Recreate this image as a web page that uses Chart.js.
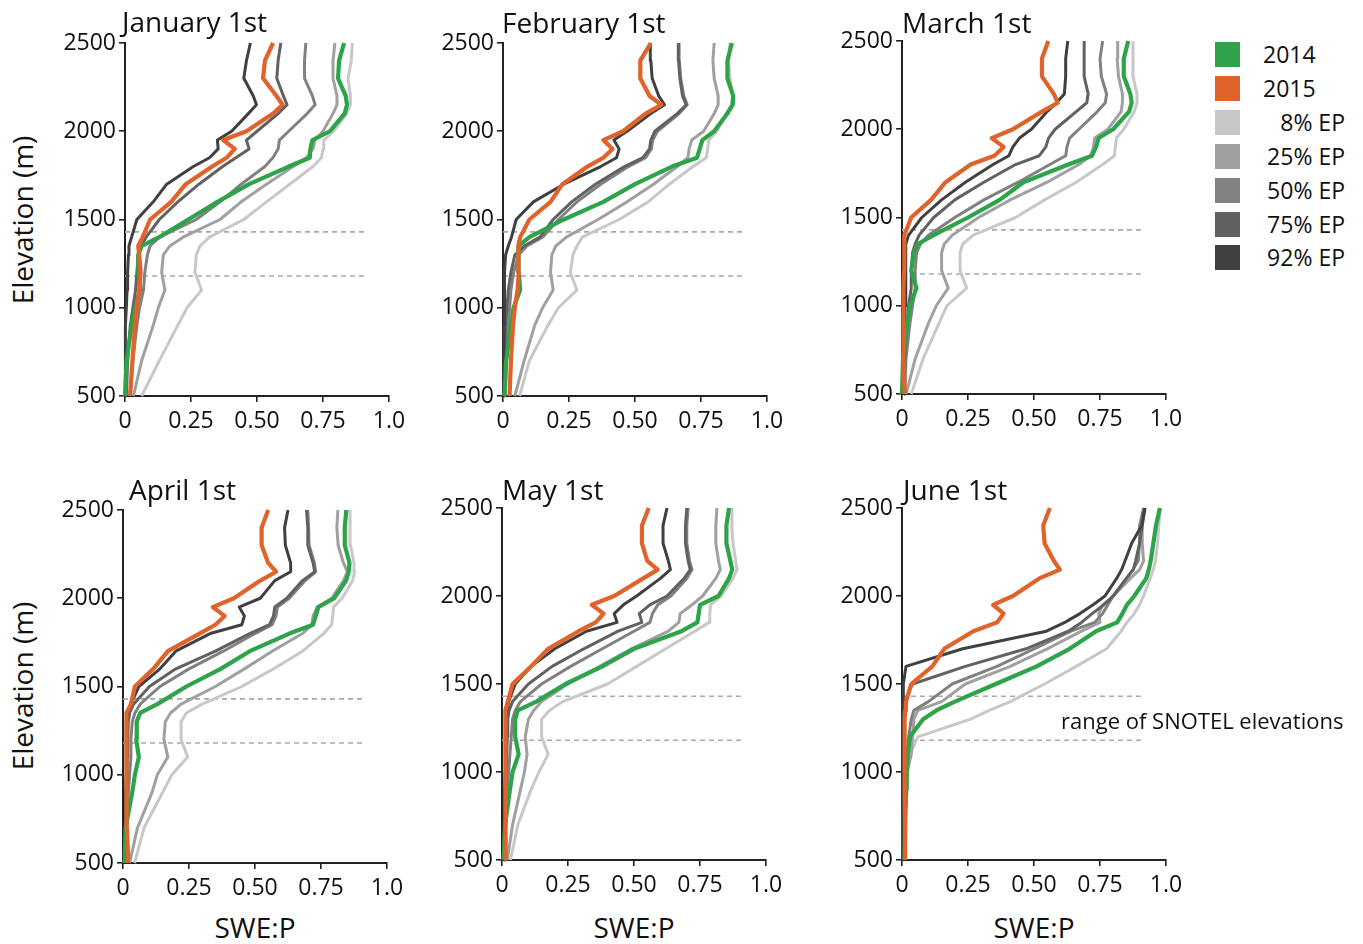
<!DOCTYPE html>
<html>
<head>
<meta charset="utf-8">
<script src="https://cdn.jsdelivr.net/npm/chart.js@4.4.1/dist/chart.umd.min.js"></script>
<style>
  body { margin: 0; background: #fff; }
  #page { position: relative; width: 1363px; height: 944px; font-family: "Open Sans", sans-serif; color: #111; overflow: hidden; }
  #page canvas { position: absolute; }
  .txt { position: absolute; white-space: nowrap; line-height: 1; }
  .title { font-size: 28px; }
  .axlab { font-size: 28px; transform: translate(-50%, -50%); }
  .ylab { transform: translate(-50%, -50%) rotate(-90deg); }
  .leg-sw { position: absolute; width: 25px; height: 25px; }
  .leg-tx { position: absolute; font-size: 23px; line-height: 25px; }
</style>
</head>
<body>
<div id="page"></div>
<script>
// elevation bands (m) shared by every profile
const elevation = [500, 700, 900, 1000, 1100, 1200, 1300, 1350, 1400, 1500, 1600, 1700, 1800, 1850, 1900, 1950, 2000, 2100, 2150, 2200, 2300, 2400, 2500];

const xTickValues = [0, 0.25, 0.5, 0.75, 1.0];
const xTickLabels = ['0', '0.25', '0.50', '0.75', '1.0'];
const yTickValues = [500, 1000, 1500, 2000, 2500];
const yTickLabels = ['500', '1000', '1500', '2000', '2500'];

// range of SNOTEL elevations (dashed lines)
const snotelRange = [1180, 1430];
const snotelSpan = [0, 0.92];

const seriesLabels = ['2014', '2015', '8% EP', '25% EP', '50% EP', '75% EP', '92% EP'];
const panelTitles = ['January 1st', 'February 1st', 'March 1st', 'April 1st', 'May 1st', 'June 1st'];

// SWE:P by elevation, one array per date and series
const jan_2014 = [0, 0.006, 0.025, 0.038, 0.057, 0.05, 0.05, 0.063, 0.13, 0.24, 0.35, 0.47, 0.62, 0.7, 0.702, 0.71, 0.776, 0.832, 0.841, 0.836, 0.807, 0.811, 0.83];
const jan_2015 = [0.019, 0.028, 0.038, 0.044, 0.054, 0.059, 0.054, 0.05, 0.067, 0.095, 0.175, 0.23, 0.33, 0.385, 0.416, 0.372, 0.46, 0.561, 0.597, 0.574, 0.523, 0.53, 0.561];
const jan_ep8 = [0.063, 0.13, 0.2, 0.235, 0.29, 0.265, 0.27, 0.284, 0.32, 0.45, 0.536, 0.624, 0.712, 0.744, 0.75, 0.753, 0.79, 0.84, 0.854, 0.854, 0.845, 0.857, 0.861];
const jan_ep25 = [0.032, 0.063, 0.107, 0.126, 0.151, 0.139, 0.145, 0.17, 0.22, 0.36, 0.44, 0.536, 0.637, 0.687, 0.712, 0.719, 0.75, 0.788, 0.803, 0.803, 0.788, 0.788, 0.795];
const jan_ep50 = [0.02, 0.03, 0.045, 0.055, 0.07, 0.075, 0.085, 0.095, 0.13, 0.27, 0.36, 0.44, 0.53, 0.56, 0.58, 0.585, 0.62, 0.69, 0.72, 0.71, 0.68, 0.68, 0.685];
const jan_ep75 = [0.005, 0.01, 0.02, 0.03, 0.04, 0.045, 0.05, 0.06, 0.08, 0.13, 0.2, 0.28, 0.37, 0.42, 0.47, 0.46, 0.5, 0.58, 0.614, 0.6, 0.575, 0.58, 0.59];
const jan_ep92 = [0, 0, 0.003, 0.005, 0.008, 0.01, 0.013, 0.015, 0.025, 0.045, 0.107, 0.158, 0.259, 0.32, 0.353, 0.35, 0.404, 0.467, 0.498, 0.486, 0.45, 0.46, 0.475];

const feb_2014 = [0.006, 0.012, 0.03, 0.04, 0.065, 0.06, 0.058, 0.06, 0.1, 0.23, 0.38, 0.5, 0.64, 0.735, 0.745, 0.755, 0.8, 0.85, 0.87, 0.872, 0.85, 0.85, 0.867];
const feb_2015 = [0.025, 0.03, 0.038, 0.045, 0.055, 0.06, 0.058, 0.058, 0.065, 0.1, 0.18, 0.225, 0.32, 0.38, 0.415, 0.38, 0.455, 0.54, 0.6, 0.555, 0.52, 0.52, 0.56];
const feb_ep8 = [0.063, 0.1, 0.17, 0.21, 0.28, 0.255, 0.265, 0.28, 0.3, 0.44, 0.55, 0.63, 0.72, 0.77, 0.775, 0.78, 0.81, 0.845, 0.865, 0.87, 0.86, 0.855, 0.86];
const feb_ep25 = [0.045, 0.08, 0.12, 0.15, 0.19, 0.18, 0.185, 0.2, 0.24, 0.36, 0.47, 0.57, 0.66, 0.7, 0.705, 0.715, 0.76, 0.8, 0.815, 0.815, 0.8, 0.795, 0.8];
const feb_ep50 = [0.008, 0.012, 0.02, 0.025, 0.03, 0.04, 0.06, 0.09, 0.15, 0.21, 0.28, 0.37, 0.475, 0.54, 0.562, 0.567, 0.585, 0.667, 0.698, 0.685, 0.673, 0.668, 0.667];
const feb_ep75 = [0.004, 0.006, 0.01, 0.015, 0.02, 0.03, 0.045, 0.08, 0.14, 0.19, 0.26, 0.35, 0.46, 0.53, 0.555, 0.56, 0.575, 0.66, 0.694, 0.68, 0.67, 0.665, 0.664];
const feb_ep92 = [0.003, 0.003, 0.004, 0.005, 0.006, 0.006, 0.01, 0.02, 0.032, 0.05, 0.115, 0.23, 0.37, 0.43, 0.44, 0.42, 0.47, 0.56, 0.612, 0.59, 0.565, 0.56, 0.558];

const mar_2014 = [0, 0.004, 0.02, 0.03, 0.055, 0.035, 0.045, 0.06, 0.12, 0.25, 0.37, 0.46, 0.63, 0.72, 0.735, 0.745, 0.8, 0.86, 0.87, 0.865, 0.84, 0.84, 0.857];
const mar_2015 = [0.01, 0.006, 0.005, 0.005, 0.006, 0.008, 0.008, 0.008, 0.01, 0.035, 0.11, 0.165, 0.26, 0.35, 0.385, 0.34, 0.42, 0.53, 0.59, 0.575, 0.53, 0.53, 0.554];
const mar_ep8 = [0.035, 0.08, 0.14, 0.17, 0.245, 0.22, 0.22, 0.23, 0.27, 0.43, 0.54, 0.66, 0.76, 0.805, 0.808, 0.812, 0.84, 0.88, 0.89, 0.89, 0.875, 0.875, 0.875];
const mar_ep25 = [0.016, 0.05, 0.1, 0.13, 0.175, 0.15, 0.15, 0.16, 0.19, 0.29, 0.41, 0.55, 0.67, 0.715, 0.725, 0.73, 0.78, 0.83, 0.835, 0.835, 0.82, 0.815, 0.817];
const mar_ep50 = [0.01, 0.015, 0.03, 0.04, 0.05, 0.05, 0.055, 0.07, 0.1, 0.2, 0.31, 0.44, 0.56, 0.62, 0.625, 0.635, 0.67, 0.74, 0.77, 0.775, 0.755, 0.75, 0.76];
const mar_ep75 = [0.008, 0.01, 0.02, 0.025, 0.035, 0.035, 0.04, 0.05, 0.065, 0.12, 0.2, 0.31, 0.43, 0.52, 0.545, 0.555, 0.58, 0.66, 0.7, 0.705, 0.69, 0.69, 0.69];
const mar_ep92 = [0.008, 0.008, 0.01, 0.012, 0.015, 0.015, 0.012, 0.015, 0.025, 0.075, 0.15, 0.24, 0.345, 0.405, 0.42, 0.445, 0.49, 0.55, 0.585, 0.615, 0.62, 0.62, 0.628];

const apr_2014 = [0.006, 0.01, 0.035, 0.045, 0.06, 0.05, 0.052, 0.065, 0.13, 0.24, 0.37, 0.48, 0.63, 0.72, 0.73, 0.74, 0.8, 0.845, 0.855, 0.858, 0.84, 0.84, 0.846];
const apr_2015 = [0.02, 0.015, 0.013, 0.013, 0.013, 0.013, 0.013, 0.015, 0.03, 0.045, 0.115, 0.17, 0.29, 0.35, 0.385, 0.34, 0.42, 0.52, 0.58, 0.55, 0.525, 0.525, 0.55];
const apr_ep8 = [0.044, 0.08, 0.15, 0.185, 0.245, 0.22, 0.22, 0.24, 0.3, 0.45, 0.57, 0.68, 0.76, 0.79, 0.795, 0.797, 0.83, 0.87, 0.877, 0.875, 0.862, 0.86, 0.86];
const apr_ep25 = [0.025, 0.055, 0.11, 0.13, 0.17, 0.155, 0.16, 0.18, 0.22, 0.35, 0.46, 0.565, 0.68, 0.715, 0.72, 0.735, 0.79, 0.835, 0.85, 0.835, 0.815, 0.81, 0.814];
const apr_ep50 = [0.01, 0.015, 0.02, 0.025, 0.03, 0.03, 0.035, 0.045, 0.065, 0.14, 0.25, 0.38, 0.5, 0.565, 0.58, 0.585, 0.63, 0.69, 0.73, 0.725, 0.705, 0.703, 0.7];
const apr_ep75 = [0.006, 0.01, 0.012, 0.015, 0.016, 0.018, 0.02, 0.025, 0.04, 0.1, 0.2, 0.35, 0.48, 0.555, 0.57, 0.575, 0.62, 0.68, 0.726, 0.72, 0.7, 0.7, 0.695];
const apr_ep92 = [0.005, 0.008, 0.01, 0.012, 0.012, 0.012, 0.013, 0.016, 0.03, 0.06, 0.14, 0.2, 0.33, 0.45, 0.46, 0.44, 0.52, 0.575, 0.635, 0.635, 0.615, 0.612, 0.625];

const may_2014 = [0.006, 0.012, 0.03, 0.04, 0.063, 0.05, 0.05, 0.06, 0.13, 0.24, 0.38, 0.5, 0.68, 0.74, 0.745, 0.75, 0.82, 0.86, 0.872, 0.865, 0.85, 0.85, 0.86];
const may_2015 = [0.013, 0.013, 0.013, 0.013, 0.013, 0.013, 0.013, 0.013, 0.022, 0.04, 0.11, 0.175, 0.29, 0.355, 0.385, 0.34, 0.425, 0.535, 0.59, 0.55, 0.53, 0.53, 0.556];
const may_ep8 = [0.032, 0.06, 0.11, 0.14, 0.175, 0.15, 0.15, 0.18, 0.23, 0.4, 0.51, 0.62, 0.73, 0.785, 0.787, 0.79, 0.83, 0.875, 0.89, 0.885, 0.875, 0.87, 0.871];
const may_ep25 = [0.02, 0.04, 0.07, 0.085, 0.095, 0.088, 0.1, 0.12, 0.15, 0.25, 0.37, 0.49, 0.63, 0.67, 0.675, 0.72, 0.76, 0.81, 0.827, 0.82, 0.81, 0.81, 0.814];
const may_ep50 = [0.012, 0.015, 0.02, 0.025, 0.03, 0.035, 0.04, 0.05, 0.07, 0.15, 0.26, 0.38, 0.5, 0.56, 0.57, 0.59, 0.64, 0.7, 0.72, 0.71, 0.7, 0.7, 0.705];
const may_ep75 = [0.008, 0.01, 0.012, 0.015, 0.018, 0.02, 0.022, 0.027, 0.04, 0.1, 0.19, 0.31, 0.44, 0.53, 0.52, 0.56, 0.625, 0.69, 0.713, 0.705, 0.695, 0.695, 0.7];
const may_ep92 = [0.005, 0.008, 0.01, 0.012, 0.013, 0.013, 0.015, 0.018, 0.025, 0.05, 0.11, 0.2, 0.32, 0.436, 0.425, 0.46, 0.51, 0.6, 0.638, 0.63, 0.61, 0.61, 0.625];

const jun_2014 = [0.01, 0.012, 0.016, 0.018, 0.022, 0.03, 0.08, 0.13, 0.2, 0.355, 0.51, 0.635, 0.735, 0.815, 0.835, 0.852, 0.88, 0.925, 0.935, 0.942, 0.952, 0.962, 0.977];
const jun_2015 = [0.012, 0.012, 0.01, 0.01, 0.01, 0.01, 0.01, 0.012, 0.015, 0.035, 0.115, 0.16, 0.27, 0.36, 0.385, 0.345, 0.42, 0.52, 0.598, 0.575, 0.54, 0.535, 0.56];
const jun_ep8 = [0.005, 0.01, 0.015, 0.02, 0.03, 0.06, 0.26, 0.33, 0.41, 0.54, 0.66, 0.775, 0.83, 0.852, 0.88, 0.9, 0.915, 0.94, 0.952, 0.96, 0.968, 0.973, 0.978];
const jun_ep25 = [0.005, 0.008, 0.012, 0.02, 0.035, 0.04, 0.045, 0.06, 0.15, 0.24, 0.41, 0.55, 0.68, 0.75, 0.745, 0.76, 0.8, 0.865, 0.9, 0.915, 0.91, 0.91, 0.92];
const jun_ep50 = [0.003, 0.005, 0.008, 0.012, 0.02, 0.025, 0.035, 0.045, 0.1, 0.19, 0.36, 0.5, 0.64, 0.73, 0.76, 0.78, 0.8, 0.85, 0.875, 0.895, 0.9, 0.9, 0.915];
const jun_ep75 = [0.003, 0.003, 0.005, 0.005, 0.005, 0.006, 0.007, 0.008, 0.01, 0.04, 0.24, 0.47, 0.63, 0.68, 0.72, 0.765, 0.8, 0.85, 0.876, 0.885, 0.9, 0.91, 0.92];
const jun_ep92 = [0.003, 0.003, 0.003, 0.003, 0.003, 0.003, 0.003, 0.003, 0.004, 0.005, 0.015, 0.23, 0.547, 0.617, 0.674, 0.724, 0.769, 0.813, 0.832, 0.845, 0.87, 0.908, 0.92];

const panelSeries = [
  [jan_2014, jan_2015, jan_ep8, jan_ep25, jan_ep50, jan_ep75, jan_ep92],
  [feb_2014, feb_2015, feb_ep8, feb_ep25, feb_ep50, feb_ep75, feb_ep92],
  [mar_2014, mar_2015, mar_ep8, mar_ep25, mar_ep50, mar_ep75, mar_ep92],
  [apr_2014, apr_2015, apr_ep8, apr_ep25, apr_ep50, apr_ep75, apr_ep92],
  [may_2014, may_2015, may_ep8, may_ep25, may_ep50, may_ep75, may_ep92],
  [jun_2014, jun_2015, jun_ep8, jun_ep25, jun_ep50, jun_ep75, jun_ep92]
];

// styling
const seriesColors = ['#2ea349', '#e0632b', '#c8c8c8', '#a0a0a0', '#818181', '#616161', '#404040'];
const seriesWidths = [4.2, 4.2, 3, 3, 3, 3, 3];
const drawOrder = [1, 0, 6, 5, 4, 3, 2];   // lower = on top

// plot area of each panel in page pixels
const panelBoxes = [
  { x: 125, y: 43, w: 264, h: 353, tx: 122, ty: 7 },
  { x: 503, y: 43, w: 264, h: 353, tx: 502, ty: 8 },
  { x: 902, y: 41, w: 264, h: 353, tx: 902, ty: 8 },
  { x: 123, y: 510, w: 264, h: 353, tx: 129, ty: 475 },
  { x: 502, y: 508, w: 264, h: 352, tx: 502, ty: 475 },
  { x: 902, y: 508, w: 264, h: 352, tx: 903, ty: 475 }
];

const Y_W = 75, X_H = 45, PAD_T = 15, PAD_R = 25;
const page = document.getElementById('page');

function addText(cls, text, css) {
  const d = document.createElement('div');
  d.className = 'txt ' + cls;
  d.textContent = text;
  Object.assign(d.style, css);
  page.appendChild(d);
  return d;
}

function buildDatasets(series) {
  const ds = series.map((vals, i) => ({
    label: seriesLabels[i],
    data: elevation.map((e, k) => ({ x: vals[k], y: e })),
    showLine: true,
    borderColor: seriesColors[i],
    backgroundColor: seriesColors[i],
    borderWidth: seriesWidths[i],
    borderJoinStyle: 'round',
    pointRadius: 0,
    pointHoverRadius: 0,
    tension: 0,
    clip: false,
    order: drawOrder[i]
  }));
  snotelRange.forEach(e => {
    ds.push({
      data: snotelSpan.map(x => ({ x: x, y: e })),
      showLine: true,
      borderColor: '#a9a9a9',
      borderWidth: 1.6,
      borderDash: [5, 4],
      pointRadius: 0,
      clip: false,
      order: 20
    });
  });
  return ds;
}

const tickFont = { family: '"Open Sans", sans-serif', size: 23 };

panelBoxes.forEach((box, p) => {
  const cv = document.createElement('canvas');
  cv.width = Y_W + box.w + PAD_R;
  cv.height = PAD_T + box.h + X_H;
  cv.style.left = (box.x - Y_W) + 'px';
  cv.style.top = (box.y - PAD_T) + 'px';
  page.appendChild(cv);

  new Chart(cv, {
    type: 'scatter',
    data: { datasets: buildDatasets(panelSeries[p]) },
    options: {
      responsive: false,
      animation: false,
      devicePixelRatio: 1,
      layout: { padding: { top: PAD_T, right: PAD_R, left: 0, bottom: 0 } },
      plugins: { legend: { display: false }, tooltip: { enabled: false } },
      events: [],
      scales: {
        x: {
          type: 'linear', min: 0, max: 1,
          afterBuildTicks: s => { s.ticks = xTickValues.map(v => ({ value: v })); },
          afterFit: s => { s.height = X_H; s.paddingLeft = 0; s.paddingRight = 0; },
          ticks: { font: tickFont, color: '#111', padding: 6, maxRotation: 0, autoSkip: false,
                   callback: (v, i) => xTickLabels[i] },
          grid: { drawOnChartArea: false, drawTicks: true, tickLength: 6, color: '#222', lineWidth: 1.6 },
          border: { display: true, color: '#222', width: 2 }
        },
        y: {
          type: 'linear', min: 500, max: 2500,
          afterBuildTicks: s => { s.ticks = yTickValues.map(v => ({ value: v })); },
          afterFit: s => { s.width = Y_W; s.paddingTop = 0; s.paddingBottom = 0; },
          ticks: { font: tickFont, color: '#111', padding: 3, autoSkip: false,
                   callback: (v, i) => yTickLabels[i] },
          grid: { drawOnChartArea: false, drawTicks: true, tickLength: 6, color: '#222', lineWidth: 1.6 },
          border: { display: true, color: '#222', width: 2 }
        }
      }
    }
  });

  addText('title', panelTitles[p], { left: box.tx + 'px', top: box.ty + 'px' });
});

// axis titles
addText('axlab ylab', 'Elevation (m)', { left: '22px', top: '220px' });
addText('axlab ylab', 'Elevation (m)', { left: '22px', top: '686px' });
[0, 1, 2].forEach(i => {
  const b = panelBoxes[3 + i];
  addText('axlab', 'SWE:P', { left: (b.x + b.w / 2) + 'px', top: '927px' });
});

addText('', 'range of SNOTEL elevations', { left: '1061px', top: '709px', fontSize: '22px' });

// legend
seriesLabels.forEach((lab, i) => {
  const top = 42 + i * 33.9;
  const sw = document.createElement('div');
  sw.className = 'leg-sw';
  Object.assign(sw.style, { left: '1215px', top: top + 'px', background: seriesColors[i] });
  page.appendChild(sw);
  const t = document.createElement('div');
  t.className = 'leg-tx';
  t.textContent = lab;
  Object.assign(t.style, { top: top + 'px' });
  if (lab.indexOf('EP') >= 0) { t.style.right = '18px'; } else { t.style.left = '1263px'; }
  page.appendChild(t);
});
</script>
</body>
</html>
